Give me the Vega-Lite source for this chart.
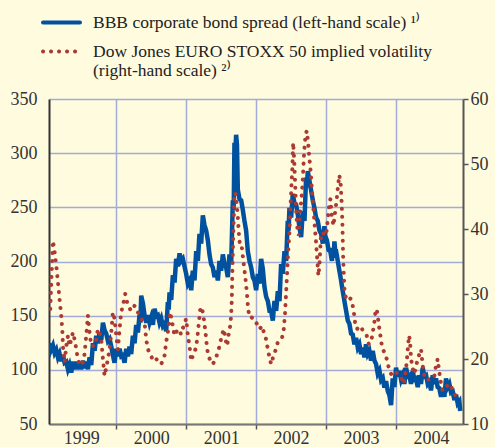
{
  "$schema": "https://vega.github.io/schema/vega-lite/v6.json",
  "width": 414,
  "height": 325,
  "autosize": "none",
  "padding": {"left": 49, "top": 99, "right": 32, "bottom": 23},
  "background": "#fffbdf",
  "config": {
    "view": {"stroke": null},
    "font": "Liberation Serif",
    "axis": {"labelFont": "Liberation Serif", "labelFontSize": 18, "labelColor": "#333333", "gridColor": "#a3acd9", "gridWidth": 1.5},
    "legend": {"labelFont": "Liberation Serif", "labelFontSize": 17.5, "labelColor": "#222222"}
  },
  "datasets": {
    "bbb": [
      {"t": 1999.038, "v": 124.5}, {"t": 1999.062, "v": 117.5},
      {"t": 1999.095, "v": 122.5}, {"t": 1999.119, "v": 115.5},
      {"t": 1999.143, "v": 118.5}, {"t": 1999.167, "v": 111.5},
      {"t": 1999.190, "v": 115}, {"t": 1999.214, "v": 108},
      {"t": 1999.238, "v": 113.5}, {"t": 1999.262, "v": 106.5},
      {"t": 1999.286, "v": 107.5}, {"t": 1999.310, "v": 100.5},
      {"t": 1999.333, "v": 104.5}, {"t": 1999.357, "v": 97.5},
      {"t": 1999.381, "v": 107.5}, {"t": 1999.405, "v": 100.5},
      {"t": 1999.429, "v": 107.5}, {"t": 1999.453, "v": 100.5},
      {"t": 1999.476, "v": 107.5}, {"t": 1999.500, "v": 100.5},
      {"t": 1999.524, "v": 108.5}, {"t": 1999.548, "v": 101.5},
      {"t": 1999.571, "v": 107.5}, {"t": 1999.595, "v": 100.5},
      {"t": 1999.619, "v": 111.5}, {"t": 1999.643, "v": 104.5},
      {"t": 1999.667, "v": 124.5}, {"t": 1999.691, "v": 117.5},
      {"t": 1999.714, "v": 131.5}, {"t": 1999.738, "v": 124.5},
      {"t": 1999.762, "v": 134.5}, {"t": 1999.786, "v": 127.5},
      {"t": 1999.810, "v": 143.5}, {"t": 1999.834, "v": 136.5},
      {"t": 1999.857, "v": 133.5}, {"t": 1999.881, "v": 126.5},
      {"t": 1999.905, "v": 128.5}, {"t": 1999.929, "v": 121.5},
      {"t": 1999.952, "v": 113.5}, {"t": 1999.976, "v": 106.5},
      {"t": 2000.000, "v": 119.5}, {"t": 2000.024, "v": 112.5},
      {"t": 2000.048, "v": 119.5}, {"t": 2000.072, "v": 112.5},
      {"t": 2000.095, "v": 113.5}, {"t": 2000.119, "v": 106.5},
      {"t": 2000.143, "v": 119.5}, {"t": 2000.167, "v": 112.5},
      {"t": 2000.190, "v": 121.5}, {"t": 2000.214, "v": 114.5},
      {"t": 2000.238, "v": 131.5}, {"t": 2000.262, "v": 124.5},
      {"t": 2000.286, "v": 141.5}, {"t": 2000.310, "v": 134.5},
      {"t": 2000.333, "v": 150.5}, {"t": 2000.345, "v": 143.5},
      {"t": 2000.357, "v": 168.5}, {"t": 2000.381, "v": 161.5},
      {"t": 2000.405, "v": 150.5}, {"t": 2000.429, "v": 143.5},
      {"t": 2000.452, "v": 150.5}, {"t": 2000.476, "v": 143.5},
      {"t": 2000.500, "v": 148.5}, {"t": 2000.524, "v": 141.5},
      {"t": 2000.548, "v": 156.5}, {"t": 2000.572, "v": 149.5},
      {"t": 2000.595, "v": 150.5}, {"t": 2000.619, "v": 143.5},
      {"t": 2000.643, "v": 147.5}, {"t": 2000.667, "v": 140.5},
      {"t": 2000.690, "v": 142.5}, {"t": 2000.714, "v": 135.5},
      {"t": 2000.738, "v": 162.5}, {"t": 2000.750, "v": 155.5},
      {"t": 2000.762, "v": 171.5}, {"t": 2000.786, "v": 164.5},
      {"t": 2000.810, "v": 187.5}, {"t": 2000.834, "v": 180.5},
      {"t": 2000.857, "v": 202.5}, {"t": 2000.881, "v": 195.5},
      {"t": 2000.905, "v": 207.5}, {"t": 2000.929, "v": 200.5},
      {"t": 2000.952, "v": 202.5}, {"t": 2000.976, "v": 195.5},
      {"t": 2001.000, "v": 188.5}, {"t": 2001.024, "v": 179.5},
      {"t": 2001.048, "v": 182.5}, {"t": 2001.072, "v": 173.5},
      {"t": 2001.095, "v": 191.5}, {"t": 2001.119, "v": 182.5},
      {"t": 2001.143, "v": 209.5}, {"t": 2001.167, "v": 200.5},
      {"t": 2001.190, "v": 225.5}, {"t": 2001.214, "v": 216.5},
      {"t": 2001.238, "v": 242.5}, {"t": 2001.262, "v": 233.5},
      {"t": 2001.286, "v": 228.5}, {"t": 2001.310, "v": 219.5},
      {"t": 2001.333, "v": 206.5}, {"t": 2001.357, "v": 197.5},
      {"t": 2001.381, "v": 194.5}, {"t": 2001.405, "v": 185.5},
      {"t": 2001.429, "v": 191.5}, {"t": 2001.453, "v": 182.5},
      {"t": 2001.476, "v": 200.5}, {"t": 2001.500, "v": 191.5},
      {"t": 2001.524, "v": 206.5}, {"t": 2001.548, "v": 197.5},
      {"t": 2001.571, "v": 194.5}, {"t": 2001.595, "v": 185.5},
      {"t": 2001.619, "v": 206.5}, {"t": 2001.643, "v": 197.5},
      {"t": 2001.667, "v": 256.5}, {"t": 2001.679, "v": 247.5},
      {"t": 2001.690, "v": 309.5}, {"t": 2001.702, "v": 300.5},
      {"t": 2001.714, "v": 317}, {"t": 2001.726, "v": 308},
      {"t": 2001.738, "v": 266.5}, {"t": 2001.762, "v": 257.5},
      {"t": 2001.786, "v": 256.5}, {"t": 2001.810, "v": 247.5},
      {"t": 2001.833, "v": 237.5}, {"t": 2001.857, "v": 228.5},
      {"t": 2001.881, "v": 209.5}, {"t": 2001.905, "v": 200.5},
      {"t": 2001.929, "v": 194.5}, {"t": 2001.953, "v": 185.5},
      {"t": 2001.976, "v": 182.5}, {"t": 2002.000, "v": 173.5},
      {"t": 2002.024, "v": 188.5}, {"t": 2002.048, "v": 179.5},
      {"t": 2002.071, "v": 202.5}, {"t": 2002.095, "v": 193.5},
      {"t": 2002.119, "v": 176.5}, {"t": 2002.143, "v": 167.5},
      {"t": 2002.167, "v": 163.5}, {"t": 2002.191, "v": 154.5},
      {"t": 2002.214, "v": 154.5}, {"t": 2002.238, "v": 145.5},
      {"t": 2002.262, "v": 163.5}, {"t": 2002.286, "v": 154.5},
      {"t": 2002.310, "v": 172.5}, {"t": 2002.334, "v": 163.5},
      {"t": 2002.357, "v": 197.5}, {"t": 2002.381, "v": 188.5},
      {"t": 2002.405, "v": 209.5}, {"t": 2002.429, "v": 200.5},
      {"t": 2002.452, "v": 237.5}, {"t": 2002.464, "v": 228.5},
      {"t": 2002.476, "v": 249.5}, {"t": 2002.500, "v": 240.5},
      {"t": 2002.524, "v": 262.5}, {"t": 2002.548, "v": 253.5},
      {"t": 2002.571, "v": 252.5}, {"t": 2002.595, "v": 243.5},
      {"t": 2002.619, "v": 231.5}, {"t": 2002.643, "v": 222.5},
      {"t": 2002.667, "v": 246.5}, {"t": 2002.691, "v": 237.5},
      {"t": 2002.714, "v": 277.5}, {"t": 2002.726, "v": 268.5},
      {"t": 2002.738, "v": 283.5}, {"t": 2002.762, "v": 274.5},
      {"t": 2002.786, "v": 265.5}, {"t": 2002.810, "v": 256.5},
      {"t": 2002.833, "v": 249.5}, {"t": 2002.857, "v": 240.5},
      {"t": 2002.881, "v": 237.5}, {"t": 2002.905, "v": 228.5},
      {"t": 2002.929, "v": 225.5}, {"t": 2002.953, "v": 216.5},
      {"t": 2002.976, "v": 232.5}, {"t": 2002.988, "v": 223.5},
      {"t": 2003.012, "v": 219.5}, {"t": 2003.036, "v": 210.5},
      {"t": 2003.060, "v": 209.5}, {"t": 2003.084, "v": 200.5},
      {"t": 2003.095, "v": 212.5}, {"t": 2003.107, "v": 203.5},
      {"t": 2003.119, "v": 218.5}, {"t": 2003.131, "v": 209.5},
      {"t": 2003.143, "v": 209.5}, {"t": 2003.167, "v": 200.5},
      {"t": 2003.190, "v": 191.5}, {"t": 2003.214, "v": 182.5},
      {"t": 2003.238, "v": 172.5}, {"t": 2003.262, "v": 163.5},
      {"t": 2003.286, "v": 154.5}, {"t": 2003.310, "v": 145.5},
      {"t": 2003.333, "v": 142.5}, {"t": 2003.357, "v": 133.5},
      {"t": 2003.381, "v": 132.5}, {"t": 2003.405, "v": 123.5},
      {"t": 2003.429, "v": 129.5}, {"t": 2003.453, "v": 120.5},
      {"t": 2003.476, "v": 123.5}, {"t": 2003.500, "v": 114.5},
      {"t": 2003.524, "v": 120.5}, {"t": 2003.548, "v": 111.5},
      {"t": 2003.571, "v": 123.5}, {"t": 2003.595, "v": 114.5},
      {"t": 2003.619, "v": 117.5}, {"t": 2003.643, "v": 108.5},
      {"t": 2003.667, "v": 117.5}, {"t": 2003.691, "v": 108.5},
      {"t": 2003.714, "v": 105.5}, {"t": 2003.738, "v": 96.5},
      {"t": 2003.762, "v": 99.5}, {"t": 2003.786, "v": 90.5},
      {"t": 2003.810, "v": 92.5}, {"t": 2003.834, "v": 83.5},
      {"t": 2003.857, "v": 89.5}, {"t": 2003.881, "v": 80.5},
      {"t": 2003.905, "v": 76.5}, {"t": 2003.929, "v": 67.5},
      {"t": 2003.952, "v": 92}, {"t": 2003.976, "v": 84},
      {"t": 2004.000, "v": 102}, {"t": 2004.024, "v": 94},
      {"t": 2004.048, "v": 99}, {"t": 2004.072, "v": 91},
      {"t": 2004.095, "v": 95}, {"t": 2004.119, "v": 87},
      {"t": 2004.143, "v": 102}, {"t": 2004.167, "v": 94},
      {"t": 2004.190, "v": 95}, {"t": 2004.214, "v": 87},
      {"t": 2004.238, "v": 99}, {"t": 2004.262, "v": 91},
      {"t": 2004.286, "v": 92}, {"t": 2004.310, "v": 84},
      {"t": 2004.333, "v": 95}, {"t": 2004.357, "v": 87},
      {"t": 2004.381, "v": 102}, {"t": 2004.405, "v": 94},
      {"t": 2004.429, "v": 95}, {"t": 2004.453, "v": 87},
      {"t": 2004.476, "v": 89}, {"t": 2004.500, "v": 81},
      {"t": 2004.524, "v": 95}, {"t": 2004.548, "v": 87},
      {"t": 2004.571, "v": 92}, {"t": 2004.595, "v": 84},
      {"t": 2004.619, "v": 83}, {"t": 2004.643, "v": 75},
      {"t": 2004.667, "v": 83}, {"t": 2004.691, "v": 75},
      {"t": 2004.714, "v": 92}, {"t": 2004.738, "v": 84},
      {"t": 2004.762, "v": 87}, {"t": 2004.786, "v": 79},
      {"t": 2004.810, "v": 80}, {"t": 2004.834, "v": 72},
      {"t": 2004.857, "v": 77}, {"t": 2004.881, "v": 69},
      {"t": 2004.905, "v": 71}, {"t": 2004.917, "v": 62}
    ],
    "vol": [
      {"t": 1999.057, "v": 27.7}, {"t": 1999.076, "v": 33}, {"t": 1999.095, "v": 38.2},
      {"t": 1999.119, "v": 36.5}, {"t": 1999.143, "v": 34.4}, {"t": 1999.167, "v": 31.8},
      {"t": 1999.190, "v": 29.2}, {"t": 1999.214, "v": 26.7}, {"t": 1999.229, "v": 24.6},
      {"t": 1999.238, "v": 22}, {"t": 1999.262, "v": 19.5}, {"t": 1999.286, "v": 22},
      {"t": 1999.310, "v": 23.6}, {"t": 1999.333, "v": 22}, {"t": 1999.357, "v": 23},
      {"t": 1999.381, "v": 24.1}, {"t": 1999.405, "v": 23}, {"t": 1999.429, "v": 21.5},
      {"t": 1999.452, "v": 20}, {"t": 1999.476, "v": 19}, {"t": 1999.524, "v": 19.5},
      {"t": 1999.548, "v": 20.8}, {"t": 1999.571, "v": 23.6}, {"t": 1999.595, "v": 26.7},
      {"t": 1999.619, "v": 24.1}, {"t": 1999.643, "v": 22}, {"t": 1999.690, "v": 22},
      {"t": 1999.714, "v": 23}, {"t": 1999.738, "v": 24.6}, {"t": 1999.762, "v": 24.1},
      {"t": 1999.786, "v": 23}, {"t": 1999.810, "v": 20}, {"t": 1999.833, "v": 17.4},
      {"t": 1999.857, "v": 18.7}, {"t": 1999.881, "v": 20}, {"t": 1999.905, "v": 21.5},
      {"t": 1999.929, "v": 24.1}, {"t": 1999.952, "v": 27.2}, {"t": 1999.976, "v": 26.2},
      {"t": 2000.000, "v": 23.6}, {"t": 2000.024, "v": 21.5}, {"t": 2000.048, "v": 24.6},
      {"t": 2000.071, "v": 27.2}, {"t": 2000.095, "v": 28.2}, {"t": 2000.129, "v": 30},
      {"t": 2000.167, "v": 28.2}, {"t": 2000.214, "v": 27.4}, {"t": 2000.262, "v": 28.2},
      {"t": 2000.310, "v": 27.2}, {"t": 2000.357, "v": 26.2}, {"t": 2000.405, "v": 25.6},
      {"t": 2000.429, "v": 23}, {"t": 2000.452, "v": 21.5}, {"t": 2000.500, "v": 20.5},
      {"t": 2000.524, "v": 19.7}, {"t": 2000.571, "v": 20}, {"t": 2000.619, "v": 19.5},
      {"t": 2000.643, "v": 19.2}, {"t": 2000.690, "v": 20.5}, {"t": 2000.714, "v": 22.6},
      {"t": 2000.738, "v": 24.1}, {"t": 2000.771, "v": 27.2}, {"t": 2000.800, "v": 25.6},
      {"t": 2000.833, "v": 23.6}, {"t": 2000.881, "v": 24.6}, {"t": 2000.929, "v": 23.8},
      {"t": 2000.962, "v": 25.1},
      {"t": 2001.000, "v": 26.2}, {"t": 2001.024, "v": 23.6}, {"t": 2001.048, "v": 22},
      {"t": 2001.071, "v": 19.7}, {"t": 2001.095, "v": 20.5}, {"t": 2001.133, "v": 21.5},
      {"t": 2001.157, "v": 23}, {"t": 2001.181, "v": 25.6}, {"t": 2001.205, "v": 28},
      {"t": 2001.229, "v": 27.7}, {"t": 2001.252, "v": 26.2}, {"t": 2001.276, "v": 24.1},
      {"t": 2001.300, "v": 21.5}, {"t": 2001.324, "v": 20.3}, {"t": 2001.357, "v": 19.5},
      {"t": 2001.381, "v": 19.2}, {"t": 2001.419, "v": 20}, {"t": 2001.452, "v": 21},
      {"t": 2001.476, "v": 22}, {"t": 2001.514, "v": 23.8}, {"t": 2001.538, "v": 24.6},
      {"t": 2001.562, "v": 23}, {"t": 2001.586, "v": 22}, {"t": 2001.610, "v": 24.1},
      {"t": 2001.629, "v": 25.1}, {"t": 2001.643, "v": 26.7}, {"t": 2001.652, "v": 29.2},
      {"t": 2001.662, "v": 34.4}, {"t": 2001.671, "v": 38.5}, {"t": 2001.681, "v": 42},
      {"t": 2001.690, "v": 45.1}, {"t": 2001.705, "v": 45.6}, {"t": 2001.719, "v": 44.1},
      {"t": 2001.738, "v": 42}, {"t": 2001.752, "v": 39.5}, {"t": 2001.767, "v": 37.7},
      {"t": 2001.790, "v": 37.7}, {"t": 2001.819, "v": 34.9}, {"t": 2001.843, "v": 32.8},
      {"t": 2001.867, "v": 30.3}, {"t": 2001.886, "v": 27.7}, {"t": 2001.905, "v": 26.4},
      {"t": 2001.933, "v": 26.4}, {"t": 2001.976, "v": 26.2}, {"t": 2002.010, "v": 25.4},
      {"t": 2002.048, "v": 24.6}, {"t": 2002.086, "v": 25.1}, {"t": 2002.110, "v": 24.1},
      {"t": 2002.143, "v": 23}, {"t": 2002.167, "v": 21.5}, {"t": 2002.190, "v": 20.3},
      {"t": 2002.214, "v": 19.2}, {"t": 2002.248, "v": 20.5}, {"t": 2002.276, "v": 21.3},
      {"t": 2002.310, "v": 22.6}, {"t": 2002.343, "v": 23}, {"t": 2002.371, "v": 23.3},
      {"t": 2002.395, "v": 24.6}, {"t": 2002.414, "v": 27.2}, {"t": 2002.429, "v": 30.3},
      {"t": 2002.443, "v": 33.3}, {"t": 2002.457, "v": 36.4}, {"t": 2002.476, "v": 39.5},
      {"t": 2002.490, "v": 43.1}, {"t": 2002.505, "v": 46.7}, {"t": 2002.519, "v": 49.7},
      {"t": 2002.529, "v": 53.3}, {"t": 2002.543, "v": 50.8}, {"t": 2002.557, "v": 47.2},
      {"t": 2002.571, "v": 43.1}, {"t": 2002.590, "v": 40}, {"t": 2002.610, "v": 39},
      {"t": 2002.629, "v": 42.6}, {"t": 2002.648, "v": 44.6}, {"t": 2002.667, "v": 47.7},
      {"t": 2002.686, "v": 51.8}, {"t": 2002.705, "v": 54.4}, {"t": 2002.724, "v": 55.1},
      {"t": 2002.743, "v": 53.3}, {"t": 2002.762, "v": 50.8}, {"t": 2002.781, "v": 48.7},
      {"t": 2002.800, "v": 45.6}, {"t": 2002.819, "v": 43.1}, {"t": 2002.838, "v": 40.5},
      {"t": 2002.857, "v": 37.9}, {"t": 2002.876, "v": 34.9}, {"t": 2002.890, "v": 32.8},
      {"t": 2002.905, "v": 34.4}, {"t": 2002.924, "v": 38.5}, {"t": 2002.952, "v": 39.5},
      {"t": 2002.981, "v": 39},
      {"t": 2003.000, "v": 39}, {"t": 2003.024, "v": 41.5}, {"t": 2003.048, "v": 44.1},
      {"t": 2003.062, "v": 44.6}, {"t": 2003.081, "v": 42}, {"t": 2003.105, "v": 40.5},
      {"t": 2003.129, "v": 42.6}, {"t": 2003.152, "v": 44.6}, {"t": 2003.171, "v": 46.7},
      {"t": 2003.190, "v": 48.3}, {"t": 2003.210, "v": 46.7}, {"t": 2003.224, "v": 43.6},
      {"t": 2003.233, "v": 41}, {"t": 2003.238, "v": 38.5}, {"t": 2003.243, "v": 35.9},
      {"t": 2003.252, "v": 33.3}, {"t": 2003.262, "v": 30.8}, {"t": 2003.286, "v": 29.2},
      {"t": 2003.324, "v": 29.5}, {"t": 2003.357, "v": 29.2}, {"t": 2003.381, "v": 28.2},
      {"t": 2003.400, "v": 26.9}, {"t": 2003.414, "v": 25.6}, {"t": 2003.443, "v": 24.6},
      {"t": 2003.476, "v": 25.1}, {"t": 2003.514, "v": 24.6}, {"t": 2003.548, "v": 24.1},
      {"t": 2003.581, "v": 23.6}, {"t": 2003.610, "v": 22.3}, {"t": 2003.643, "v": 22.6},
      {"t": 2003.667, "v": 24.1}, {"t": 2003.690, "v": 25.6}, {"t": 2003.705, "v": 27.2},
      {"t": 2003.724, "v": 27.7}, {"t": 2003.743, "v": 26.2}, {"t": 2003.762, "v": 24.6},
      {"t": 2003.781, "v": 23.3}, {"t": 2003.800, "v": 21.8}, {"t": 2003.833, "v": 21},
      {"t": 2003.867, "v": 20}, {"t": 2003.895, "v": 18.7}, {"t": 2003.929, "v": 17.7},
      {"t": 2003.962, "v": 18.2}, {"t": 2004.000, "v": 17.9}, {"t": 2004.038, "v": 17.7},
      {"t": 2004.071, "v": 17.2}, {"t": 2004.105, "v": 16.2}, {"t": 2004.129, "v": 17.2},
      {"t": 2004.152, "v": 19.5}, {"t": 2004.171, "v": 22}, {"t": 2004.186, "v": 23.6},
      {"t": 2004.200, "v": 22.8}, {"t": 2004.214, "v": 20}, {"t": 2004.238, "v": 18.5},
      {"t": 2004.262, "v": 17.7}, {"t": 2004.286, "v": 19}, {"t": 2004.314, "v": 20},
      {"t": 2004.338, "v": 21}, {"t": 2004.357, "v": 21.5}, {"t": 2004.381, "v": 19},
      {"t": 2004.405, "v": 17.4}, {"t": 2004.443, "v": 16.7}, {"t": 2004.476, "v": 16.9},
      {"t": 2004.514, "v": 16.9}, {"t": 2004.548, "v": 17.4}, {"t": 2004.571, "v": 19},
      {"t": 2004.595, "v": 20}, {"t": 2004.619, "v": 17.9}, {"t": 2004.643, "v": 16.2},
      {"t": 2004.667, "v": 15.1}, {"t": 2004.700, "v": 15.4}, {"t": 2004.733, "v": 15.9},
      {"t": 2004.762, "v": 16.2}, {"t": 2004.795, "v": 15.6}, {"t": 2004.824, "v": 14.6},
      {"t": 2004.857, "v": 14.4}, {"t": 2004.881, "v": 14.1}
    ]
  },
  "layer": [
    {
      "data": {"name": "bbb"},
      "mark": {"type": "line", "strokeWidth": 4.5, "clip": true},
      "encoding": {
        "x": {
          "field": "t", "type": "quantitative",
          "scale": {"domain": [1999.039, 2004.957], "nice": false, "zero": false},
          "axis": {"orient": "bottom", "values": [2000, 2001, 2002, 2003, 2004], "grid": true, "labels": false, "ticks": true, "tickSize": 5, "tickColor": "#555555", "tickWidth": 1.5, "domain": true, "domainColor": "#777777", "domainWidth": 2, "title": null}
        },
        "y": {
          "field": "v", "type": "quantitative",
          "scale": {"domain": [50, 350], "nice": false, "zero": false},
          "axis": {"orient": "left", "values": [50, 100, 150, 200, 250, 300, 350], "grid": true, "ticks": false, "domainColor": "#333333", "domainWidth": 2, "labelPadding": 12, "title": null}
        },
        "color": {
          "datum": "a",
          "scale": {"domain": ["a", "b"], "range": ["#00519f", "#ad3a32"]},
          "legend": {
            "title": null, "orient": "none", "legendX": -8, "legendY": -97, "direction": "vertical",
            "symbolType": "stroke", "symbolSize": 1369, "symbolStrokeWidth": 4, "labelOffset": 11, "rowPadding": -10.5, "padding": 0, "labelLimit": 0,
            "labelExpr": "datum.label == 'a' ? 'BBB corporate bond spread (left-hand scale) ¹⁾' : ['Dow Jones EURO STOXX 50 implied volatility', '(right-hand scale) ²⁾']",
            "encode": {"symbols": {"update": {"strokeCap": {"value": "round"}}}}
          }
        },
        "strokeDash": {
          "datum": "a",
          "scale": {"domain": ["a", "b"], "range": [[1, 0], [0.1, 7.9]]},
          "legend": null
        }
      }
    },
    {
      "data": {"name": "vol"},
      "mark": {"type": "line", "strokeWidth": 4, "strokeCap": "round", "clip": true},
      "encoding": {
        "x": {
          "field": "t", "type": "quantitative",
          "axis": {"orient": "bottom", "values": [1999.5, 2000.5, 2001.5, 2002.5, 2003.5, 2004.5], "grid": false, "ticks": false, "domain": false, "labelExpr": "floor(datum.value)", "labelPadding": 5, "title": null}
        },
        "y": {
          "field": "v", "type": "quantitative",
          "scale": {"domain": [10, 60], "nice": false, "zero": false},
          "axis": {"orient": "right", "values": [10, 20, 30, 40, 50, 60], "grid": false, "ticks": true, "tickSize": 5, "tickColor": "#555555", "tickWidth": 1.5, "domainColor": "#555555", "domainWidth": 2, "labelPadding": 2, "title": null}
        },
        "color": {"datum": "b"},
        "strokeDash": {"datum": "b"}
      }
    }
  ],
  "resolve": {"scale": {"y": "independent"}, "axis": {"x": "independent"}}
}
